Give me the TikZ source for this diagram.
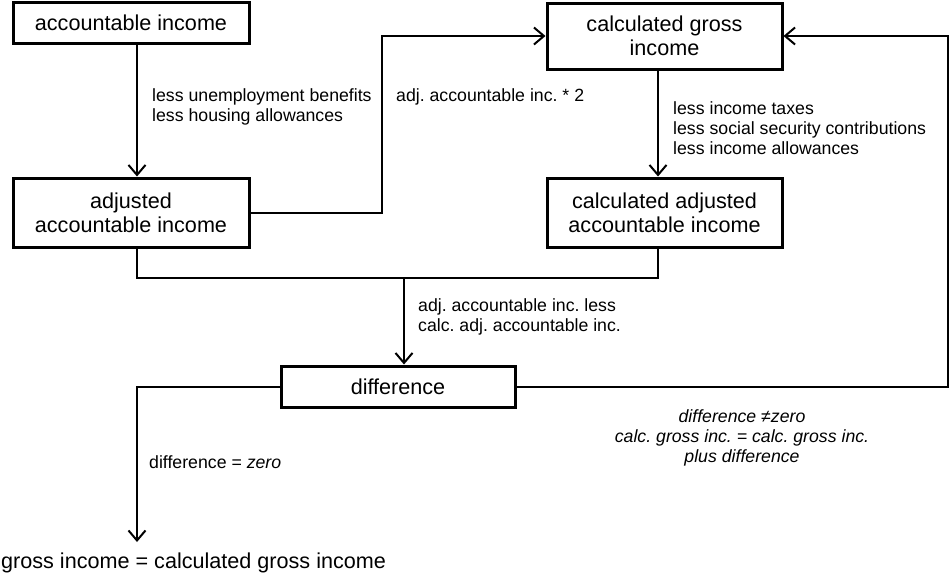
\documentclass[tikz,border=0pt]{standalone}
\usepackage{fontspec}
\setmainfont{Liberation Sans}
\usetikzlibrary{arrows.meta}
\frenchspacing
\begin{document}
\begin{tikzpicture}[x=1pt,y=-1pt,
  box/.style={draw,line width=3pt,inner sep=0pt,align=center,font=\fontsize{21.6}{24}\selectfont},
  conn/.style={line width=2pt},
  arr/.style={conn,-{Straight Barb[length=10pt,width=17pt,line width=2pt]}},
  lbl/.style={inner sep=0pt,align=left,font=\fontsize{17.7}{20}\selectfont},
]
\useasboundingbox (0,0) rectangle (950,576);
\node[box,minimum width=236pt,minimum height=41pt] (b1) at (131,22.5) {accountable income};
\node[box,minimum width=236pt,minimum height=69pt] (b2) at (131,212.5) {adjusted\\accountable income};
\node[box,minimum width=235pt,minimum height=66pt] (b3) at (664.5,36) {calculated gross\\income};
\node[box,minimum width=235pt,minimum height=69pt] (b4) at (664.5,212.5) {calculated adjusted\\accountable income};
\node[box,minimum width=234pt,minimum height=41pt] (diff) at (398,386.5) {difference};
\node[inner sep=0pt,anchor=west,font=\fontsize{21.6}{24}\selectfont] (gi) at (1,563) {gross income = calculated gross income};
\coordinate (m) at (404,278);
\coordinate (r) at (948,0);
\coordinate (gend) at (137,542);
\coordinate (up) at (382,0);
% connectors
\draw[arr] ([xshift=6pt]b1.south) -- ([xshift=6pt]b2.north);
\draw[arr] (b2.east) -- (b2.east -| up) -- (b3.west -| up) -- (b3.west);
\draw[arr] ([xshift=-6.5pt]b3.south) -- ([xshift=-6.5pt]b4.north);
\draw[conn] ([xshift=6pt]b2.south) |- (m) -| ([xshift=-6.5pt]b4.south);
\draw[arr] (m) -- (m |- diff.north);
\draw[arr] (diff.west) -| (gend);
\draw[arr] (diff.east) -- (diff.east -| r) -- (b3.east -| r) -- (b3.east);
% labels
\node[lbl,anchor=west] (l1) at (152,107) {less unemployment benefits\\less housing allowances};
\node[lbl,anchor=west] (l2) at (396,97) {adj. accountable inc. * 2};
\node[lbl,anchor=west] (l3) at (673,128) {less income taxes\\less social security contributions\\less income allowances};
\node[lbl,anchor=west] (l4) at (418,317) {adj. accountable inc. less\\calc. adj. accountable inc.};
\node[lbl,anchor=west] (l5) at (149,462) {difference = \textit{zero}};
\node[lbl,align=center,font=\fontsize{17.7}{20}\selectfont\itshape] (l6) at (742,438) {difference ≠zero\\calc. gross inc. = calc. gross inc.\\plus difference};
\end{tikzpicture}
\end{document}
